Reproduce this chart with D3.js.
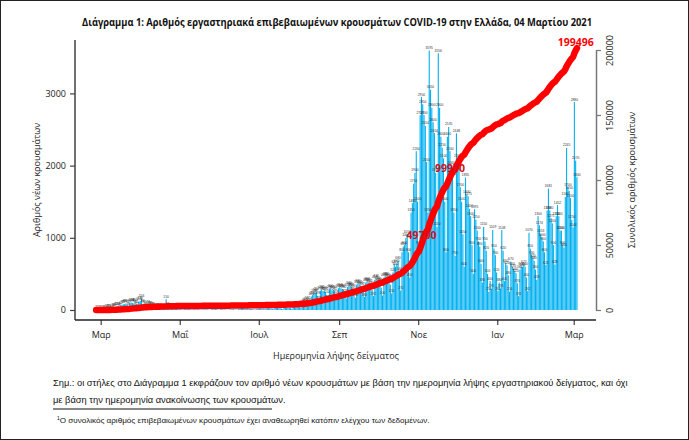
<!DOCTYPE html>
<html>
<head>
<meta charset="utf-8">
<script src="https://cdn.jsdelivr.net/npm/d3@7/dist/d3.min.js"></script>
<style>
  body { margin: 0; background: #fff; }
  svg { display: block; }
</style>
</head>
<body>
<div id="chart"></div>
<script>
// daily new cases by sample date, starting Wed 26 Feb 2020 (one row = Wed..Tue)
const startDate = Date.UTC(2020, 1, 26);
const dailyCases = [
  1, 1, 2, 3, 1, 4, 6,
  10, 14, 18, 15, 8, 24, 30,
  36, 42, 55, 48, 30, 62, 72,
  78, 84, 90, 72, 46, 96, 104,
  98, 92, 110, 80, 52, 118, 126,
  156, 84, 72, 58, 36, 74, 66,
  58, 52, 46, 30, 20, 40, 36,
  30, 26, 22, 16, 10, 150, 48,
  32, 26, 20, 12, 8, 22, 18,
  16, 12, 10, 8, 5, 12, 10,
  12, 14, 10, 8, 4, 10, 8,
  10, 8, 7, 5, 3, 8, 10,
  12, 10, 8, 6, 3, 10, 12,
  14, 12, 10, 8, 4, 10, 12,
  10, 8, 6, 5, 3, 8, 10,
  12, 10, 8, 6, 4, 14, 16,
  28, 24, 20, 14, 8, 18, 20,
  16, 14, 12, 8, 5, 16, 18,
  20, 18, 16, 12, 8, 22, 26,
  26, 24, 20, 16, 10, 28, 32,
  32, 28, 26, 20, 12, 32, 36,
  36, 34, 30, 26, 16, 42, 48,
  52, 56, 62, 46, 30, 82, 96,
  110, 122, 132, 100, 70, 188, 206,
  228, 240, 252, 198, 128, 268, 282,
  262, 268, 250, 210, 142, 290, 300,
  272, 280, 262, 218, 150, 302, 318,
  300, 292, 280, 228, 160, 318, 340,
  330, 318, 300, 250, 170, 352, 370,
  352, 340, 322, 262, 180, 380, 398,
  380, 362, 340, 280, 192, 418, 436,
  410, 400, 380, 310, 200, 448, 470,
  460, 450, 430, 350, 230, 520, 637,
  600, 640, 680, 540, 270, 800, 880,
  900, 1000, 1050, 800, 450, 1350, 1480,
  1750, 1900, 2200, 1500, 900, 2700, 2950,
  2850, 2700, 2550, 2050, 1350, 3595, 3050,
  2800, 2600, 2450, 1900, 1150, 3556, 2800,
  2400, 2250, 2100, 1500, 800, 2400, 2535,
  2200, 2000, 1850, 1350, 750, 2448, 2100,
  1975, 1700, 1500, 1050, 600, 1835, 1600,
  1575, 1400, 1300, 900, 500, 1395, 1250,
  1100, 950, 880, 640, 380, 1150, 950,
  820, 500, 250, 400, 291, 1109, 850,
  760, 520, 262, 380, 298, 1108, 820,
  400, 650, 620, 480, 254, 670, 600,
  570, 540, 510, 370, 191, 560, 600,
  593, 627, 600, 450, 262, 1070, 850,
  760, 720, 680, 560, 418, 1300, 1174,
  1053, 1000, 950, 800, 623, 1380, 1681,
  1380, 1271, 1200, 900, 628, 1300, 1452,
  1300, 1100, 1100, 900, 864, 1566, 2245,
  1700, 1650, 1550, 1250, 1144, 2880, 2070,
  1840
];
const monthTicks = ["2020-03-01", "2020-05-01", "2020-07-01", "2020-09-01", "2020-11-01", "2021-01-01", "2021-03-01"];
const monthLabels = ["Μαρ", "Μαΐ", "Ιουλ", "Σεπ", "Νοε", "Ιαν", "Μαρ"];
const leftTicks = [0, 1000, 2000, 3000];
const rightTicks = [0, 50000, 100000, 150000, 200000];
const milestones = [49700, 99970, 199496];

const width = 689, height = 440;
const DAY = 86400000;

const days = dailyCases.map((v, i) => ({ date: new Date(startDate + i * DAY), value: v }));
const cum = d3.cumsum(dailyCases);

const svg = d3.select('#chart').append('svg')
    .attr('width', width)
    .attr('height', height);

svg.append('rect')
    .attr('x', 0.5).attr('y', 0.5)
    .attr('width', width - 1).attr('height', height - 1)
    .attr('fill', '#fff').attr('stroke', '#222');

const x = d3.scaleUtc()
    .domain([new Date(startDate), new Date(startDate + dailyCases.length * DAY)])
    .range([95.5, 577.6]);
const yL = d3.scaleLinear().domain([0, 3740]).range([310, 40]);
const yR = d3.scaleLinear().domain([0, 200000]).range([310, 50]);
const bw = x(new Date(startDate + DAY)) - x(new Date(startDate));

// bars
svg.append('g').selectAll('rect')
    .data(days)
    .enter()
    .append('rect')
    .attr('x', d => x(d.date) + bw * 0.08)
    .attr('y', d => yL(d.value))
    .attr('width', bw * 0.84)
    .attr('height', d => yL(0) - yL(d.value))
    .attr('fill', '#00b0f0');

// tiny value labels above bars
svg.append('g').selectAll('text')
    .data(days)
    .enter()
    .append('text')
    .attr('x', d => x(d.date) + bw / 2)
    .attr('y', d => yL(d.value) - 1.5)
    .attr('text-anchor', 'middle')
    .attr('font-family', 'Liberation Sans, Arial, sans-serif')
    .attr('font-size', 3.3)
    .attr('fill', '#333')
    .text(d => d.value);

// cumulative line
const line = d3.line()
    .x((d, i) => x(days[i].date) + bw / 2)
    .y(d => yR(d));
svg.append('path')
    .datum(cum)
    .attr('d', line)
    .attr('fill', 'none')
    .attr('stroke', '#ff0000')
    .attr('stroke-width', 6.5)
    .attr('stroke-linecap', 'round')
    .attr('stroke-linejoin', 'round');

milestones.forEach(m => {
    let i = cum.findIndex(c => c >= m);
    if (i < 0) i = cum.length - 1;
    svg.append('text')
        .attr('x', x(days[i].date) + bw / 2)
        .attr('y', yR(cum[i]) - 5)
        .attr('text-anchor', 'middle')
        .attr('font-family', 'Open Sans, sans-serif')
        .attr('font-weight', 'bold')
        .attr('font-size', 10.5)
        .attr('fill', m === 199496 ? '#ff0000' : '#d0101c')
        .text(m);
});

const fmt = d3.format('d');
const axisColor = '#404040';

// left axis
const yLAxis = svg.append('g')
    .attr('transform', 'translate(75,0)')
    .call(d3.axisLeft(yL).tickValues(leftTicks).tickFormat(fmt).tickSize(5).tickSizeOuter(0));
yLAxis.select('.domain').remove();
yLAxis.append('line')
    .attr('y1', 40).attr('y2', 320)
    .attr('stroke', axisColor).attr('stroke-width', 1.5);
yLAxis.selectAll('.tick line').attr('stroke', axisColor).attr('stroke-width', 1.2);
yLAxis.selectAll('.tick text')
    .attr('font-family', 'Open Sans, sans-serif')
    .attr('font-size', 9)
    .attr('fill', '#222')
    .attr('x', -9);

// right axis
const yRAxis = svg.append('g')
    .attr('transform', 'translate(596,0)')
    .call(d3.axisRight(yR).tickValues(rightTicks).tickFormat(fmt).tickSize(5).tickSizeOuter(0));
yRAxis.select('.domain').attr('stroke', '#777').attr('stroke-width', 1.5);
yRAxis.selectAll('.tick line').attr('stroke', '#777').attr('stroke-width', 1.2);
yRAxis.selectAll('.tick text')
    .attr('font-family', 'Open Sans, sans-serif')
    .attr('font-size', 9)
    .attr('fill', '#222')
    .attr('x', 0).attr('dy', 0)
    .attr('text-anchor', 'middle')
    .attr('transform', 'translate(17,0) rotate(-90)');

// x axis
const xAxis = svg.append('g')
    .attr('transform', 'translate(0,320)')
    .call(d3.axisBottom(x)
        .tickValues(monthTicks.map(s => new Date(s + 'T00:00:00Z')))
        .tickFormat((d, i) => monthLabels[i])
        .tickSize(5).tickSizeOuter(0));
xAxis.select('.domain').remove();
xAxis.append('line')
    .attr('x1', 75).attr('x2', 596)
    .attr('stroke', '#222').attr('stroke-width', 1.5);
xAxis.selectAll('.tick line').attr('stroke', axisColor).attr('stroke-width', 1.2);
xAxis.selectAll('.tick text')
    .attr('font-family', 'Open Sans, sans-serif')
    .attr('font-size', 9)
    .attr('fill', '#222')
    .attr('y', 12);

// titles
const font = 'Open Sans, sans-serif';
svg.append('text')
    .attr('x', 337).attr('y', 26)
    .attr('text-anchor', 'middle')
    .attr('font-family', font)
    .attr('font-weight', 'bold')
    .attr('font-size', 11)
    .attr('textLength', 510)
    .attr('lengthAdjust', 'spacingAndGlyphs')
    .attr('fill', '#111')
    .text('Διάγραμμα 1: Αριθμός εργαστηριακά επιβεβαιωμένων κρουσμάτων COVID-19 στην Ελλάδα, 04 Μαρτίου 2021');

svg.append('text')
    .attr('x', 336).attr('y', 359)
    .attr('text-anchor', 'middle')
    .attr('font-family', font)
    .attr('font-size', 9)
    .attr('fill', '#222')
    .text('Ημερομηνία λήψης δείγματος');

svg.append('text')
    .attr('transform', 'translate(40,180) rotate(-90)')
    .attr('text-anchor', 'middle')
    .attr('font-family', font)
    .attr('font-size', 9)
    .attr('fill', '#222')
    .text('Αριθμός νέων κρουσμάτων');

svg.append('text')
    .attr('transform', 'translate(635,180) rotate(-90)')
    .attr('text-anchor', 'middle')
    .attr('font-family', font)
    .attr('font-size', 9)
    .attr('fill', '#222')
    .text('Συνολικός αριθμός κρουσμάτων');

// notes
const noteFont = 'Liberation Sans, Arial, sans-serif';
svg.append('text')
    .attr('x', 53).attr('y', 386)
    .attr('font-family', noteFont)
    .attr('font-size', 9.3)
    .attr('fill', '#111')
    .text('Σημ.: οι στήλες στο Διάγραμμα 1 εκφράζουν τον αριθμό νέων κρουσμάτων με βάση την ημερομηνία λήψης εργαστηριακού δείγματος, και όχι');
svg.append('text')
    .attr('x', 53).attr('y', 403)
    .attr('font-family', noteFont)
    .attr('font-size', 9.3)
    .attr('fill', '#111')
    .text('με βάση την ημερομηνία ανακοίνωσης των κρουσμάτων.');
svg.append('line')
    .attr('x1', 53).attr('x2', 272)
    .attr('y1', 409).attr('y2', 409)
    .attr('stroke', '#111').attr('stroke-width', 1);
const fn = svg.append('text')
    .attr('x', 57).attr('y', 423)
    .attr('font-family', noteFont)
    .attr('font-size', 8.1)
    .attr('fill', '#111');
fn.append('tspan').attr('font-size', 5).attr('dy', -3).text('1');
fn.append('tspan').attr('dy', 3).text('Ο συνολικός αριθμός επιβεβαιωμένων κρουσμάτων έχει αναθεωρηθεί κατόπιν ελέγχου των δεδομένων.');
</script>
</body>
</html>
